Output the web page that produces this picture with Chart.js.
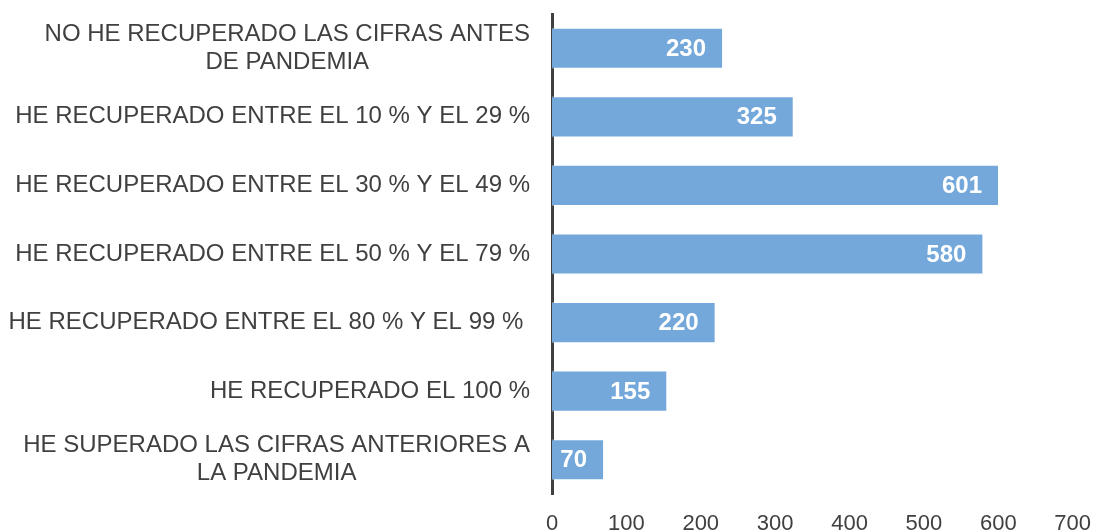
<!DOCTYPE html>
<html>
<head>
<meta charset="utf-8">
<script src="https://cdn.jsdelivr.net/npm/chart.js@4/dist/chart.umd.min.js"></script>
<style>
  html, body { margin: 0; padding: 0; background: #fff; }
  #wrap { width: 1100px; height: 532px; }
</style>
</head>
<body>
<div id="wrap"><canvas id="myChart"></canvas></div>
<script>
const categories = [
    ['NO HE RECUPERADO LAS CIFRAS ANTES', 'DE PANDEMIA'],
    'HE RECUPERADO ENTRE EL 10 % Y EL 29 %',
    'HE RECUPERADO ENTRE EL 30 % Y EL 49 %',
    'HE RECUPERADO ENTRE EL 50 % Y EL 79 %',
    'HE RECUPERADO ENTRE EL 80 % Y EL 99 % ',
    'HE RECUPERADO EL 100 %',
    ['HE SUPERADO LAS CIFRAS ANTERIORES A', 'LA PANDEMIA']
];
const values = [230, 325, 601, 580, 220, 155, 70];
const xTicks = [0, 100, 200, 300, 400, 500, 600, 700];

const textColor = '#404040';
const fontFamily = '"Liberation Sans", Arial, sans-serif';

// category labels, each line centred in its block, block right-aligned
const categoryLabels = {
    id: 'categoryLabels',
    afterDraw(chart) {
        const ctx = chart.ctx;
        const yScale = chart.scales.y;
        const right = chart.chartArea.left - 22;
        ctx.save();
        ctx.font = '24px ' + fontFamily;
        ctx.fillStyle = textColor;
        ctx.textAlign = 'center';
        ctx.textBaseline = 'middle';
        categories.forEach((label, i) => {
            const lines = Array.isArray(label) ? label : [label];
            const maxW = Math.max(...lines.map(l => ctx.measureText(l).width));
            const cx = right - maxW / 2;
            const y = yScale.getPixelForTick(i);
            const lh = 28;
            lines.forEach((line, j) => {
                ctx.fillText(line, cx, y + (j - (lines.length - 1) / 2) * lh);
            });
        });
        ctx.restore();
    }
};

// value labels inside the bar end
const valueLabels = {
    id: 'valueLabels',
    afterDatasetsDraw(chart) {
        const ctx = chart.ctx;
        const meta = chart.getDatasetMeta(0);
        ctx.save();
        ctx.font = 'bold 24px ' + fontFamily;
        ctx.fillStyle = '#ffffff';
        ctx.textAlign = 'right';
        ctx.textBaseline = 'middle';
        meta.data.forEach((bar, i) => {
            ctx.fillText(values[i], bar.x - 17, bar.y + 1);
        });
        ctx.restore();
    }
};

const data = {
    labels: categories,
    datasets: [{
        data: values,
        backgroundColor: '#74A8DA',
        borderColor: 'rgba(255, 255, 255, 0.35)',
        borderWidth: 1,
        categoryPercentage: 0.6,
        barPercentage: 1.0
    }]
};

const options = {
    indexAxis: 'y',
    responsive: true,
    maintainAspectRatio: false,
    animation: false,
    layout: {
        padding: { top: 14, right: 6, bottom: 0, left: 0 }
    },
    scales: {
        x: {
            min: 0,
            max: 700,
            afterBuildTicks: (scale) => {
                scale.ticks = xTicks.map(v => ({ value: v }));
            },
            afterFit: (scale) => { scale.height = 38; },
            grid: { display: false },
            border: { display: false },
            ticks: {
                padding: 9,
                color: textColor,
                font: { family: fontFamily, size: 22 }
            }
        },
        y: {
            afterFit: (scale) => { scale.width = 552; },
            grid: { display: false },
            border: { display: true, color: '#404040', width: 3 },
            ticks: { display: false }
        }
    },
    plugins: {
        legend: { display: false },
        tooltip: { enabled: false }
    }
};

new Chart(document.getElementById('myChart'), {
    type: 'bar',
    data: data,
    options: options,
    plugins: [categoryLabels, valueLabels]
});
</script>
</body>
</html>
